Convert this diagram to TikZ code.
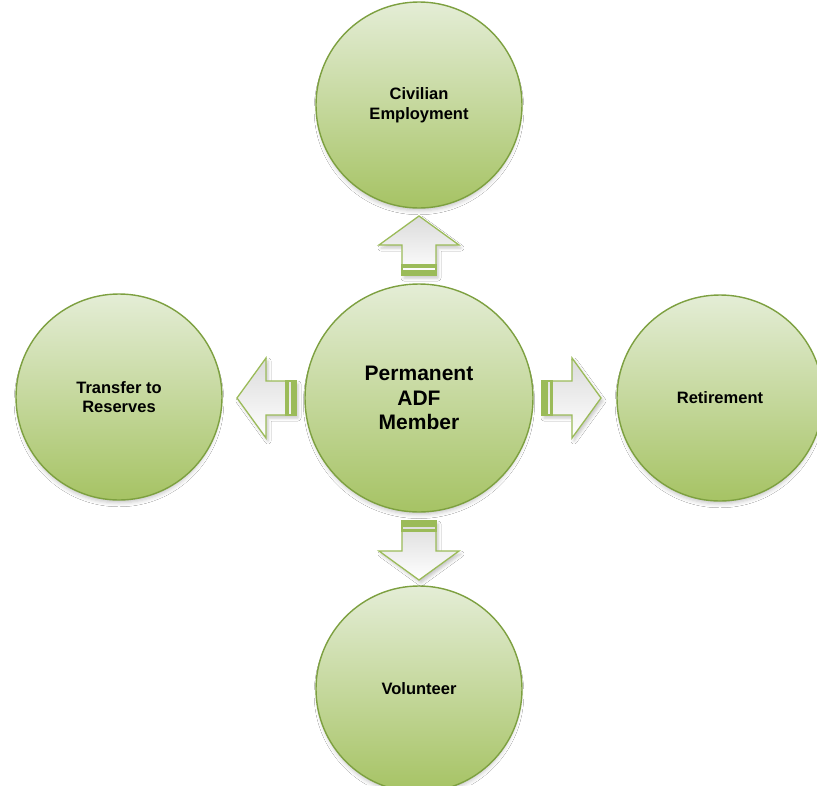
\documentclass[tikz,border=0pt]{standalone}
\usepackage{fontspec}
\setmainfont{Liberation Sans}
\usetikzlibrary{shadows,shadows.blur}
\definecolor{lightg}{RGB}{228,237,214}
\definecolor{darkg}{RGB}{166,195,100}
\definecolor{ringg}{RGB}{125,160,64}
\definecolor{arrg}{RGB}{155,187,89}
\tikzset{
  bubble/.style={circle, draw=ringg, line width=1.4pt, inner sep=0pt,
    top color=lightg, bottom color=darkg, align=center, font=\bfseries,
    blur shadow={shadow xshift=0pt, shadow yshift=-5pt, shadow blur radius=4pt, shadow opacity=22, shadow scale=0.98}},
  outer/.style={bubble, minimum size=206pt, font=\bfseries\fontsize{16.5}{19.5}\selectfont},
  inner/.style={bubble, minimum size=228pt, font=\bfseries\fontsize{21}{24.5}\selectfont},
  arrowbody/.style={draw=arrg, line width=1.3pt, line join=miter, top color=black!14, bottom color=white,
    blur shadow={shadow xshift=2pt, shadow yshift=-3pt, shadow blur radius=3pt, shadow opacity=22}},
  stripe/.style={fill=arrg}
}
\newcommand\myarrow[1]{%
  \begin{scope}[shift={(c)}, rotate=#1]
    \path[arrowbody] (123,-17) -- (153,-17) -- (153,-40) -- (182,0) -- (153,40) -- (153,17) -- (123,17) -- cycle;
    \fill[stripe] (123,-17) rectangle (128.5,17);
    \fill[stripe] (130.5,-17) rectangle (133,17);
    \draw[draw=arrg, line width=1.3pt] (123,-17) rectangle (133,17);
  \end{scope}}
\begin{document}
\begin{tikzpicture}[x=1pt, y=-1pt]
  \useasboundingbox[fill=white] (0,0) rectangle (817,785);
  \node[inner] (c) at (419,398) {Permanent\\ADF\\Member};
  \node[outer] (t) at (419,105) {Civilian\\Employment};
  \node[outer] (l) at (119,397) {Transfer to\\Reserves};
  \node[outer] (r) at (720,398) {Retirement};
  \node[outer] (b) at (419,689) {Volunteer};
  \myarrow{0}
  \myarrow{90}
  \myarrow{180}
  \myarrow{270}
\end{tikzpicture}
\end{document}
